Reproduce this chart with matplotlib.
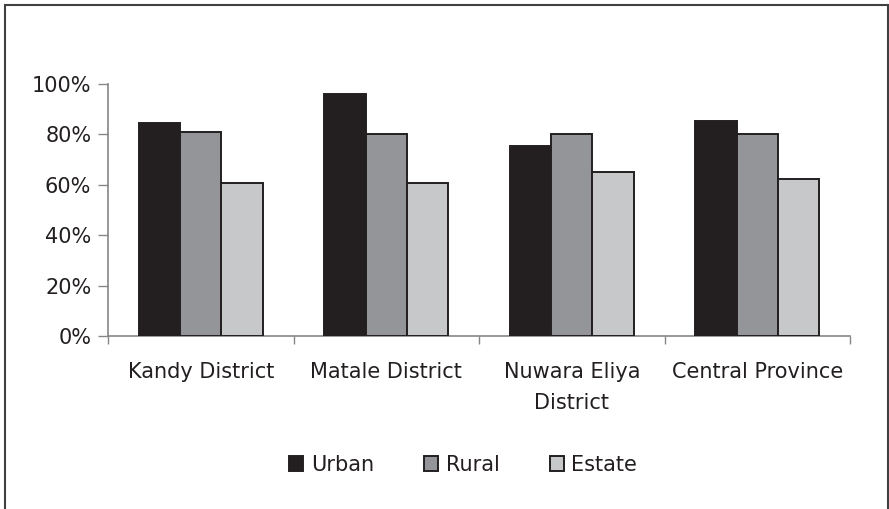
import matplotlib
matplotlib.use("Agg")
import matplotlib.pyplot as plt
import numpy as np
from matplotlib.patches import Rectangle

# Data (share of households, %).
categories = ["Kandy District", "Matale District", "Nuwara Eliya\nDistrict", "Central Province"]
urban = [84.5, 96, 75.3, 85.2]
rural = [81, 80.2, 80.2, 80.2]
estate = [60.7, 60.7, 65.1, 62.3]
series_names = ["Urban", "Rural", "Estate"]
yticks = [0, 20, 40, 60, 80, 100]

COLORS = ["#231f20", "#939598", "#c7c8ca"]
EDGE = "#231f20"
AXIS_GREY = "#868686"
TEXT = "#231f20"

plt.rcParams["font.family"] = ["DejaVu Sans"]
plt.rcParams["font.size"] = 15

fig = plt.figure(figsize=(8.89, 5.09), dpi=100)
ax = fig.add_axes([108 / 889, 1 - 336 / 509, (850 - 108) / 889, (336 - 84) / 509])

# Excel-style clustered bars: gap width 150% -> bar width 1/4.5.
x = np.arange(len(categories))
width = 1 / 4.5
for i, (vals, name) in enumerate(zip([urban, rural, estate], series_names)):
    ax.bar(x + (i - 1) * width, vals, width, color=COLORS[i], edgecolor=EDGE,
           linewidth=1.4, label=name, zorder=3)

ax.set_xlim(-0.5, len(categories) - 0.5)
ax.set_ylim(0, 100)
ax.set_yticks(yticks)
ax.set_yticklabels([f"{v}%" for v in yticks], color=TEXT)

# category labels in the middle, ticks at the boundaries
ax.set_xticks(x)
ax.set_xticklabels(categories, linespacing=1.65, color=TEXT, va="top")
ax.tick_params(axis="x", length=0, pad=19)
ax.set_xticks(np.arange(len(categories) + 1) - 0.5, minor=True)
ax.tick_params(axis="x", which="minor", length=6, width=1, color=AXIS_GREY, direction="out")
ax.tick_params(axis="y", length=7, width=1, color=AXIS_GREY, pad=5, direction="out")

for side in ["top", "right"]:
    ax.spines[side].set_visible(False)
for side in ["left", "bottom"]:
    ax.spines[side].set_color(AXIS_GREY)
    ax.spines[side].set_linewidth(1.2)

leg = fig.legend(loc="center", bbox_to_anchor=(463 / 889, 1 - 465 / 509), ncol=3,
                 frameon=False, handlelength=0.7, handleheight=0.7,
                 handletextpad=0.35, columnspacing=2.4, fontsize=15)
for t in leg.get_texts():
    t.set_color(TEXT)

# outer chart-area border (bottom edge falls off the picture)
fig.patches.append(Rectangle((4.5 / 889, -0.05), (888 - 4.5) / 889, 1.05 - 5 / 509,
                             transform=fig.transFigure, fill=False,
                             edgecolor="#404040", linewidth=1.5))

fig.savefig("out.png", dpi=100)
